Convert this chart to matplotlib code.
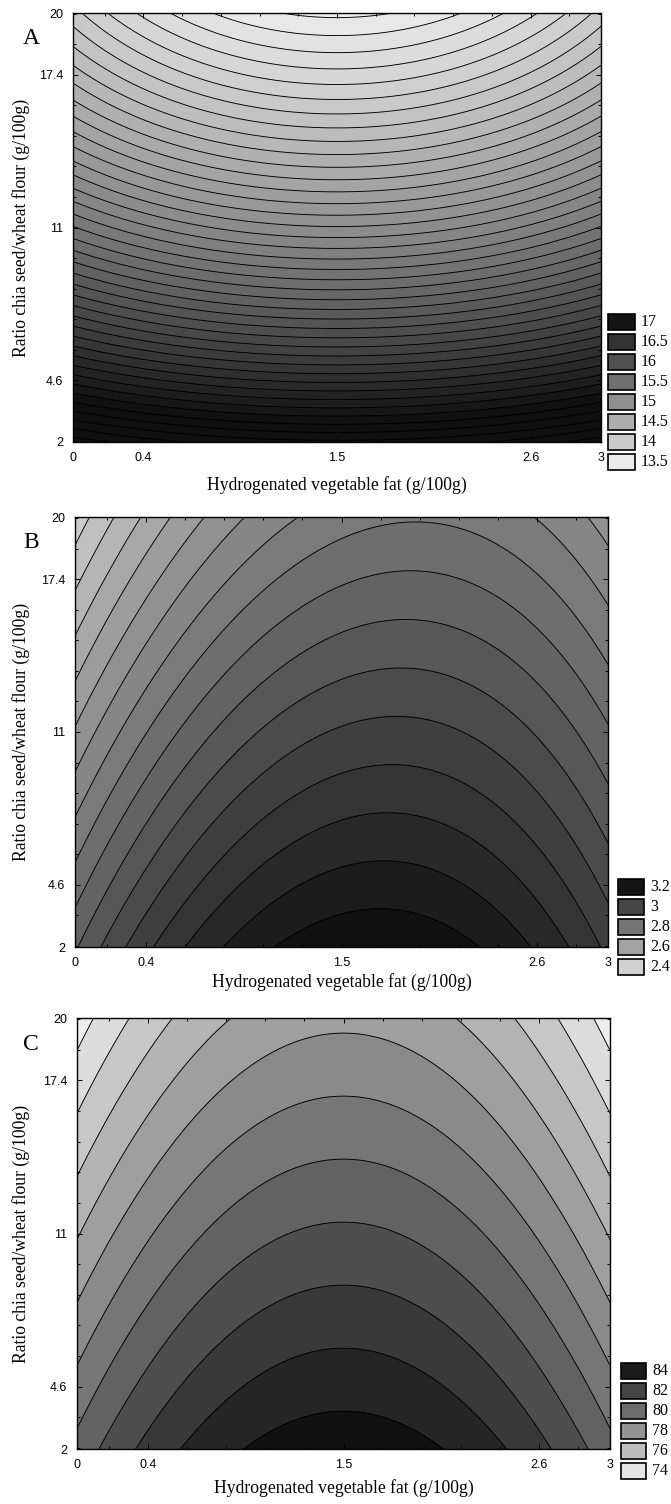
import numpy as np
import matplotlib
matplotlib.use("Agg")
import matplotlib.pyplot as plt
from matplotlib.colors import LinearSegmentedColormap, Normalize
from matplotlib.patches import Rectangle
from matplotlib.ticker import FixedLocator

# ---------------- data ----------------
x_ticks = [0, 0.4, 1.5, 2.6, 3]
y_ticks = [2, 4.6, 11, 17.4, 20]
x_label = "Hydrogenated vegetable fat (g/100g)"
y_label = "Ratio chia seed/wheat flour (g/100g)"
panel_letters = ["A", "B", "C"]

# fitted response surfaces
# [value at (x_opt, y=2), slope in y, quadratic in y, curvature in x, change of x-curvature per y, x*y interaction, x_opt]
surf_A = [17.32, -0.30, 0.0048, 0.106, 0.008, 0.0, 1.5]
surf_B = [3.24, -0.025, 0.0, -0.12, 0.001, 0.0025, 1.7]
surf_C = [84.6, -0.38, 0.0, -1.9, 0.0, 0.0, 1.5]

legend_A = [17, 16.5, 16, 15.5, 15, 14.5, 14, 13.5]
legend_B = [3.2, 3, 2.8, 2.6, 2.4]
legend_C = [84, 82, 80, 78, 76, 74]

step_A = 0.1
step_B = 0.05
step_C = 1.0

# ---------------- helpers ----------------
def surface(c, X, Y):
    b0, by, byy, bxx, bxxy, bxy, xo = c
    dx = X - xo
    dy = Y - 2.0
    return b0 + by * dy + byy * dy ** 2 + (bxx + bxxy * dy) * dx ** 2 + bxy * dx * dy

gray_cmap = LinearSegmentedColormap.from_list("g", [(0.93, 0.93, 0.93), (0.06, 0.06, 0.06)])

W, H = 671, 1504
fig = plt.figure(figsize=(W / 100, H / 100), dpi=100)

def fx(px):
    return px / W

def fy(py):
    return 1 - py / H

panels = [
    dict(s=surf_A, leg=legend_A, step=step_A, box=(73, 601, 13, 442), lbox=(608, 635), l0=322,
         vlight=13.46, vdark=17.08, xl=43),
    dict(s=surf_B, leg=legend_B, step=step_B, box=(75, 608, 517, 947), lbox=(618, 644), l0=887,
         vlight=2.28, vdark=3.233, xl=35),
    dict(s=surf_C, leg=legend_C, step=step_C, box=(77, 610, 1018, 1449), lbox=(621, 646), l0=1371,
         vlight=73.6, vdark=84.6, xl=39),
]

serif = ["Liberation Serif", "DejaVu Serif"]
sans = ["Liberation Sans", "DejaVu Sans"]

xg = np.linspace(0, 3, 301)
yg = np.linspace(2, 20, 361)
X, Y = np.meshgrid(xg, yg)

for i, p in enumerate(panels):
    l, r, t, b = p["box"]
    ax = fig.add_axes([fx(l), fy(b), fx(r) - fx(l), fy(t) - fy(b)])
    Z = surface(p["s"], X, Y)
    norm = Normalize(vmin=p["vlight"], vmax=p["vdark"], clip=True)
    st = p["step"]
    lo = np.floor(Z.min() / st) * st - st
    hi = np.ceil(Z.max() / st) * st + st
    levels = np.arange(lo, hi + st / 2, st)
    ax.contourf(X, Y, Z, levels=levels, cmap=gray_cmap, norm=norm)
    ax.contour(X, Y, Z, levels=levels, colors="black", linewidths=0.65)
    ax.set_xlim(0, 3)
    ax.set_ylim(2, 20)
    ax.set_xticks(x_ticks)
    ax.set_xticklabels([f"{v:g}" for v in x_ticks], fontfamily=sans, fontsize=9)
    ax.set_yticks(y_ticks)
    ax.set_yticklabels([f"{v:g}" for v in y_ticks], fontfamily=sans, fontsize=9)
    ax.xaxis.set_minor_locator(FixedLocator([1.5 + 0.22 * k for k in range(-6, 7)]))
    ax.yaxis.set_minor_locator(FixedLocator([11 + 1.28 * k for k in range(-7, 8)]))
    ax.tick_params(which="both", direction="in", top=True, right=True, width=0.7)
    ax.tick_params(which="major", length=3.5, pad=7)
    ax.tick_params(which="minor", length=2.5)
    for sp in ax.spines.values():
        sp.set_linewidth(1.0)
    ax.set_xlabel(x_label, fontfamily=serif, fontsize=12.7)
    ax.set_ylabel(y_label, fontfamily=serif, fontsize=12.7)
    ax.xaxis.set_label_coords(0.5, -p["xl"] / (b - t))
    ax.xaxis.label.set_va("center")
    ax.yaxis.set_label_coords(-(l - 21) / (r - l), 0.5)
    ax.yaxis.label.set_va("center")
    fig.text(fx(31), fy(t + 26), panel_letters[i], fontfamily=serif, fontsize=17,
             ha="center", va="center")

    # legend
    bl, br = p["lbox"]
    for k, v in enumerate(p["leg"]):
        yc = p["l0"] + 20 * k
        rect = Rectangle((fx(bl), fy(yc + 8)), fx(br) - fx(bl), fy(yc - 8) - fy(yc + 8),
                         transform=fig.transFigure, facecolor=gray_cmap(norm(v)),
                         edgecolor="black", linewidth=1.2)
        fig.patches.append(rect)
        fig.text(fx(br + 6), fy(yc), f"{v:g}", fontfamily=serif, fontsize=11.5,
                 ha="left", va="center")

fig.savefig("out.png", dpi=100)
